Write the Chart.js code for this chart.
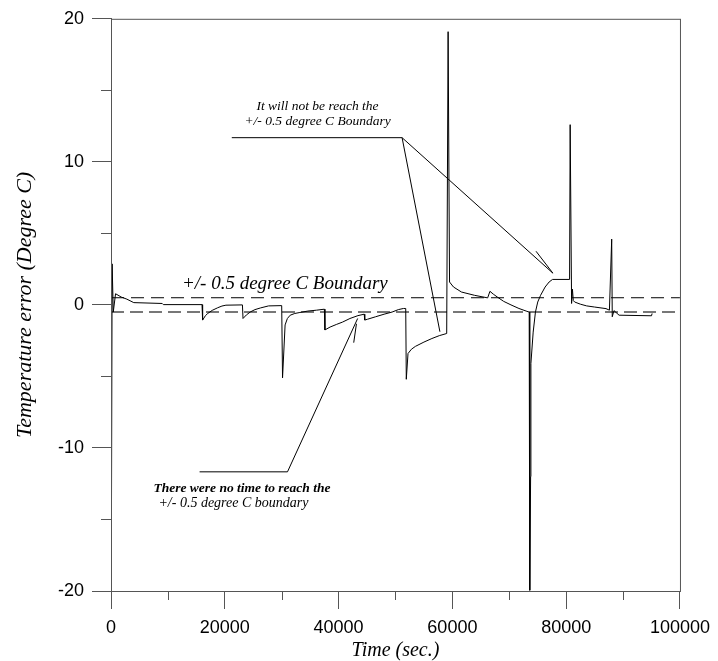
<!DOCTYPE html>
<html>
<head>
<meta charset="utf-8">
<script src="https://cdn.jsdelivr.net/npm/chart.js@4.4.1/dist/chart.umd.min.js"></script>
<style>
  html, body { margin: 0; padding: 0; background: #fff; }
  canvas { display: block; }
</style>
</head>
<body>
<canvas id="chart" width="718" height="661"></canvas>
<script>
// time in seconds, temperature error in degree C
const timeSec = [
  0, 50, 200, 400, 800, 1800, 2800, 4000, 9000, 9200, 16000,
  16100, 16600, 17000, 17800, 18750, 19500, 20200, 23100,
  23200, 23800, 24500, 25300, 26300, 27700, 30000,
  30150, 30600, 31000, 31500, 32300, 33200, 34600, 36100, 37500,
  37600, 38500, 39600, 40700, 42000, 43400, 44500,
  44600, 45100, 46500, 48000, 49400, 50500, 51400, 51800,
  51900, 52200, 52800, 53500, 55000, 56400, 57700, 59000,
  59250, 59500, 60200, 61600, 63900, 66200, 66600, 67200, 67900, 69000, 70300, 71700, 73100, 73500,
  73600, 73750, 73800, 74200, 74600, 75000, 75500, 76300, 77000, 77600, 80600,
  80700, 80950, 81100, 81250, 81500, 82500, 83600, 85000, 87000, 87600,
  88000, 88100, 88400, 89300, 95000, 95100
];
const errorDegC = [
  0, -19.6, 2.87, -0.5, 0.78, 0.55, 0.4, 0.16, 0.1, 0.02, 0.02,
  -1.06, -0.75, -0.6, -0.38, -0.2, -0.08, -0.02, 0.0,
  -0.95, -0.7, -0.49, -0.33, -0.21, -0.07, -0.05,
  -5.1, -1.4, -0.95, -0.72, -0.6, -0.53, -0.43, -0.37, -0.3,
  -1.75, -1.55, -1.37, -1.2, -0.95, -0.75, -0.65,
  -1.06, -1.0, -0.83, -0.65, -0.5, -0.33, -0.25, -0.25,
  -5.2, -3.4, -3.1, -2.9, -2.6, -2.35, -2.15, -2.0,
  19.1, 1.6, 1.25, 0.9, 0.67, 0.49, 0.95, 0.75, 0.55, 0.25, 0.0, -0.25, -0.45, -0.5,
  -19.95, -12, -4.1, -1.9, -0.5, 0.2, 0.67, 1.25, 1.6, 1.78, 1.78,
  12.6, 0.1, 1.1, 0.3, 0.2, 0.05, -0.07, -0.15, -0.26, -0.37,
  4.6, -0.83, -0.4, -0.72, -0.76, -0.6
];
const boundaryLevels = [0.5, -0.5];
const xTicks = [0, 20000, 40000, 60000, 80000, 100000];
const yTicks = [-20, -10, 0, 10, 20];
const xMinorTicks = [10000, 30000, 50000, 70000, 90000];
const yMinorTicks = [-15, -5, 5, 15];

// annotation texts and leader lines, in data units (sec, degree C)
const boundaryLabel = { text: '+/- 0.5 degree C Boundary', x: 30560, y: 1.46 };
const reachNote = { lines: ['It will not be reach the', '+/- 0.5 degree C Boundary'], x: 36300, y: [13.89, 12.85] };
const reachLeaders = [
  [[21230, 11.69], [51160, 11.69], [57810, -1.875]],
  [[51160, 11.69], [77660, 2.22]],
  [[74700, 3.75], [77660, 2.22]]
];
const noTimeNote = { lines: ['There were no time to reach the', '+/- 0.5 degree C boundary'], x: [7470, 8330], y: [-12.85, -13.89] };
const noTimeLeaders = [
  [[15570, -11.67], [31020, -11.67], [43350, -0.95]],
  [[42660, -2.64], [43140, -1.32]]
];

const serif = '"Liberation Serif", "Times New Roman", serif';
const sans = '"Liberation Sans", Arial, sans-serif';

const extras = {
  id: 'extras',
  afterDraw(chart) {
    const { ctx, chartArea: a, scales: { x, y } } = chart;
    ctx.save();
    // frame
    ctx.strokeStyle = '#555';
    ctx.lineWidth = 1;
    ctx.strokeRect(a.left + 0.5, a.top + 0.5, a.right - a.left, a.bottom - a.top);
    // minor ticks
    ctx.beginPath();
    xMinorTicks.forEach(t => {
      const px = Math.round(x.getPixelForValue(t)) + 0.5;
      ctx.moveTo(px, a.bottom);
      ctx.lineTo(px, a.bottom + 9);
    });
    yMinorTicks.forEach(v => {
      const py = Math.round(y.getPixelForValue(v)) + 0.5;
      ctx.moveTo(a.left, py);
      ctx.lineTo(a.left - 10, py);
    });
    ctx.stroke();

    // leaders
    ctx.strokeStyle = '#000';
    ctx.lineWidth = 1;
    [...reachLeaders, ...noTimeLeaders].forEach(path => {
      ctx.beginPath();
      path.forEach(([t, v], i) => {
        const px = x.getPixelForValue(t), py = y.getPixelForValue(v);
        if (i === 0) ctx.moveTo(px, py); else ctx.lineTo(px, py);
      });
      ctx.stroke();
    });

    // texts
    ctx.fillStyle = '#000';
    ctx.textBaseline = 'middle';
    ctx.textAlign = 'center';
    ctx.font = 'italic 19px ' + serif;
    ctx.fillText(boundaryLabel.text, x.getPixelForValue(boundaryLabel.x), y.getPixelForValue(boundaryLabel.y));

    ctx.font = 'italic 13.5px ' + serif;
    reachNote.lines.forEach((s, i) => {
      ctx.fillText(s, x.getPixelForValue(reachNote.x), y.getPixelForValue(reachNote.y[i]));
    });
    ctx.textAlign = 'left';
    noTimeNote.lines.forEach((s, i) => {
      ctx.font = (i === 0 ? 'italic bold 13.5px ' : 'italic 14px ') + serif;
      ctx.fillText(s, x.getPixelForValue(noTimeNote.x[i]), y.getPixelForValue(noTimeNote.y[i]));
    });
    ctx.restore();
  }
};

new Chart(document.getElementById('chart'), {
  type: 'scatter',
  data: {
    datasets: [
      {
        label: 'error',
        data: timeSec.map((t, i) => ({ x: t, y: errorDegC[i] })),
        showLine: true,
        borderColor: '#000',
        borderWidth: 1,
        pointRadius: 0,
        tension: 0,
      },
      {
        label: 'upper',
        data: [{ x: 0, y: boundaryLevels[0] }, { x: 100000, y: boundaryLevels[0] }],
        showLine: true,
        borderColor: '#000',
        borderWidth: 1,
        borderDash: [13, 7],
        pointRadius: 0,
      },
      {
        label: 'lower',
        data: [{ x: 0, y: boundaryLevels[1] }, { x: 100000, y: boundaryLevels[1] }],
        showLine: true,
        borderColor: '#777',
        borderWidth: 2,
        borderDash: [13, 6],
        pointRadius: 0,
      },
    ],
  },
  options: {
    responsive: false,
    animation: false,
    devicePixelRatio: 1,
    layout: { padding: { left: 0, right: 30, top: 15, bottom: 0 } },
    plugins: { legend: { display: false }, tooltip: { enabled: false } },
    scales: {
      x: {
        type: 'linear',
        min: 0,
        max: 100000,
        afterFit: s => { s.height = 70; },
        afterBuildTicks: s => { s.ticks = xTicks.map(v => ({ value: v })); },
        ticks: {
          color: '#000',
          font: { family: sans, size: 18 },
          padding: 8,
          maxRotation: 0,
          callback: v => String(v),
        },
        grid: { drawOnChartArea: false, tickLength: 18, color: '#555' },
        border: { color: '#555' },
        title: {
          display: true,
          text: 'Time (sec.)',
          color: '#000',
          font: { family: serif, size: 20, style: 'italic', lineHeight: 1 },
          padding: 0,
        },
      },
      y: {
        min: -20,
        max: 20,
        afterFit: s => { s.width = 111; },
        afterBuildTicks: s => { s.ticks = yTicks.map(v => ({ value: v })); },
        ticks: {
          color: '#000',
          font: { family: sans, size: 18 },
          padding: 8,
        },
        grid: { drawOnChartArea: false, tickLength: 19, color: '#555' },
        border: { color: '#555' },
        title: {
          display: true,
          text: 'Temperature error (Degree C)',
          color: '#000',
          font: { family: serif, size: 22, style: 'italic', lineHeight: 1 },
          padding: { top: 14, bottom: 0 },
        },
      },
    },
  },
  plugins: [extras],
});
</script>
</body>
</html>
